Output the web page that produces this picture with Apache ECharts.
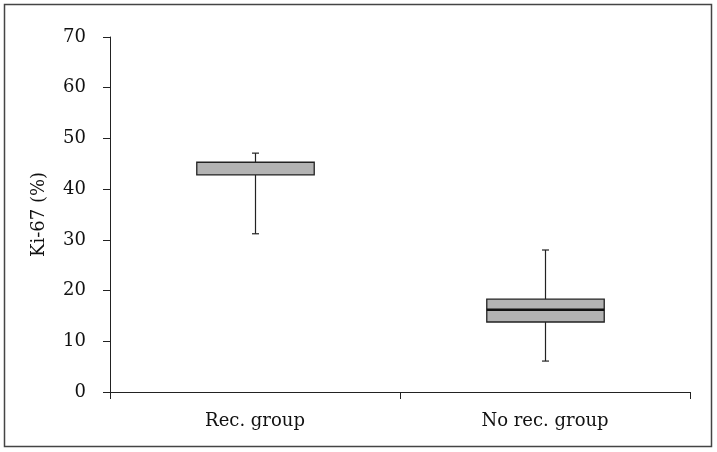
<!DOCTYPE html>
<html><head><meta charset="utf-8">
<script src="https://cdn.jsdelivr.net/npm/echarts@6/dist/echarts.min.js"></script>
<style>html,body{margin:0;padding:0;background:#fff}#c{width:717px;height:452px}</style>
</head><body><div id="c"></div>
<script>
var categories = ['Rec. group', 'No rec. group'];
var whiskerMin = [31.2, 6.1];
var q1 = [42.8, 13.8];
var median = [45.3, 16.2];
var q3 = [45.3, 18.3];
var whiskerMax = [47.1, 28];
var yTicks = [0, 10, 20, 30, 40, 50, 60, 70];

var data = categories.map(function (c, i) {
  return [i, whiskerMin[i], q1[i], median[i], q3[i], whiskerMax[i]];
});

var chart = echarts.init(document.getElementById('c'), null, {renderer: 'canvas'});
var font = '"DejaVu Serif", "Liberation Serif", serif';
chart.setOption({
  animation: false,
  backgroundColor: '#fff',
  graphic: [{
    type: 'rect', shape: {x: 4.5, y: 4.5, width: 707, height: 442},
    style: {fill: 'none', stroke: '#444', lineWidth: 1.5}, z: 0
  }],
  grid: {left: 110, right: 27, top: 37, bottom: 60},
  xAxis: {
    type: 'category', data: categories, boundaryGap: true,
    axisLine: {lineStyle: {color: '#222', width: 1}},
    axisTick: {show: true, length: 7, interval: 0, lineStyle: {color: '#222'}},
    axisLabel: {color: '#111', fontFamily: font, fontSize: 18, margin: 20},
    splitLine: {show: false}
  },
  yAxis: {
    type: 'value', min: 0, max: 70, interval: 10,
    name: 'Ki-67 (%)', nameLocation: 'middle', nameGap: 62, nameRotate: 90,
    nameTextStyle: {color: '#111', fontFamily: font, fontSize: 18},
    axisLine: {show: true, lineStyle: {color: '#222', width: 1}},
    axisTick: {show: true, length: 7, lineStyle: {color: '#222'}},
    axisLabel: {color: '#111', fontFamily: font, fontSize: 18, margin: 24,
      formatter: function (v) { return yTicks.indexOf(v) >= 0 ? String(v) : ''; }},
    splitLine: {show: false}
  },
  series: [{
    type: 'custom',
    data: data,
    encode: {x: 0, y: [1, 2, 3, 4, 5]},
    renderItem: function (params, api) {
      var x = api.value(0);
      var pMin = api.coord([x, api.value(1)]);
      var pQ1 = api.coord([x, api.value(2)]);
      var pMed = api.coord([x, api.value(3)]);
      var pQ3 = api.coord([x, api.value(4)]);
      var pMax = api.coord([x, api.value(5)]);
      var bw = api.size([1, 0])[0] * 0.405;
      var cx = Math.round(pMin[0]) + 0.5;
      var cap = 3.5;
      var line = {stroke: '#222', lineWidth: 1.2};
      var children = [
        {type: 'line', shape: {x1: cx, y1: pMax[1], x2: cx, y2: pQ3[1]}, style: line},
        {type: 'line', shape: {x1: cx, y1: pQ1[1], x2: cx, y2: pMin[1]}, style: line},
        {type: 'line', shape: {x1: cx - cap, y1: pMax[1], x2: cx + cap, y2: pMax[1]}, style: line},
        {type: 'line', shape: {x1: cx - cap, y1: pMin[1], x2: cx + cap, y2: pMin[1]}, style: line},
        {type: 'rect', shape: {x: cx - bw / 2, y: pQ3[1], width: bw, height: pQ1[1] - pQ3[1]},
          style: {fill: '#b3b3b3', stroke: '#222', lineWidth: 1.3}}
      ];
      if (api.value(3) !== api.value(4) && api.value(3) !== api.value(2)) {
        children.push({type: 'line', shape: {x1: cx - bw / 2, y1: pMed[1], x2: cx + bw / 2, y2: pMed[1]},
          style: {stroke: '#111', lineWidth: 2.5}});
      }
      return {type: 'group', children: children};
    }
  }]
});
</script></body></html>
